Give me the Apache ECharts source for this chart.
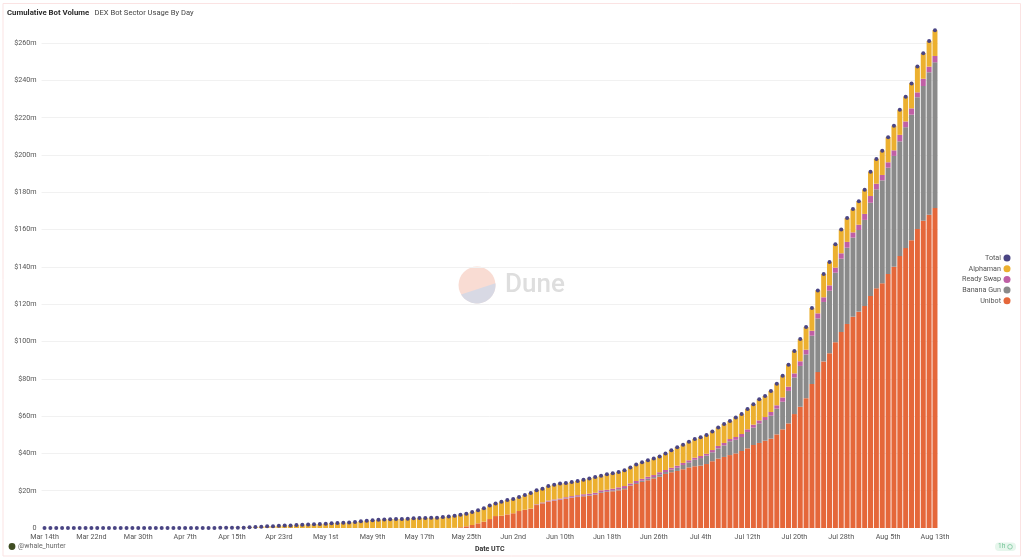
<!DOCTYPE html>
<html>
<head>
<meta charset="utf-8">
<style>html,body{margin:0;padding:0;background:#fff}#c{width:1024px;height:559px}</style>
<script src="https://cdn.jsdelivr.net/npm/echarts@6/dist/echarts.min.js"></script>
</head>
<body>
<div id="c"></div>
<script>
const monthSpans = [["Mar",14,31],["Apr",1,30],["May",1,31],["Jun",1,30],["Jul",1,31],["Aug",1,13]];
const seriesNames = ["Total","Alphaman","Ready Swap","Banana Gun","Unibot"];
const suffix = d => (d%10===1&&d!==11)?"st":(d%10===2&&d!==12)?"nd":(d%10===3&&d!==13)?"rd":"th";
const categories = [];
monthSpans.forEach(m => { for (let d=m[1]; d<=m[2]; d++) categories.push(m[0]+" "+d+suffix(d)); });

const unibot = [
0,0,0,0,0,0,0,0,0,0, 0,0,0,0,0,0,0,0,0,0, 0,0,0,0,0,0,0,0,0,0,
0,0,0,0,0,0,0,0,0,0, 0,0,0,0,0,0,0,0,0,0, 0,0,0,0,0,0,0,0,0,0,
0,0,0,0,0,0,0,0,0,0,
.1,.4,.9,1.6,2.5,3.4,4.8,6.4,6.6,7.3,
7.9,9.1,9.8,10.3,12.3,13.2,14.1,14.6,15,15.7,
16.2,16.6,17,17.3,17.7,
18.9,19.3,19.7,20.2,20.8,22.7,23.6,24.7,25.6,26.6,
27.5,29,29.9,30.6,31.5,32.5,33.1,33.4,34.3,35.8,
37.2,38.1,39.1,40,41.3,42.7,44.5,45.6,46.8,47.9,
50.2,52.9,56.1,61.1,65,69.6,77.2,83.6,89.3,93.7,
99.6,105.1,109.4,113.3,116,119,124.4,128.5,131.2,136.2,
140.1,145.8,150.1,154.3,160.3,164.8,168,171.6];

const bananaGun = [
0,0,0,0,0,0,0,0,0,0, 0,0,0,0,0,0,0,0,0,0, 0,0,0,0,0,0,0,0,0,0,
0,0,0,0,0,0,0,0,0,0, 0,0,0,0,0,0,0,0,0,0, 0,0,0,0,0,0,0,0,0,0,
0,0,0,0,0,0,0,0,0,0, 0,0,0,0,0,0,0,0,0,0, 0,0,0,0,
.1,.1,.1,.2,.2,.2,.2,.3,.3,.3,.3,
.4,.4,.5,.6,.6,.3,.5,.7,.8,.7,
1.3,1,1.4,1.7,2.3,2.7,3.5,4.1,4.5,4.8,
5.5,6.2,7.4,7.3,7.5,8.8,9.3,10.5,11.1,12.3,
13.8,14.8,17.4,19.6,21.9,23.5,25.9,28.8,31.9,33.5,
37.3,39.3,40.9,42.4,43.8,46.2,50,53.1,55.2,57,
59.4,61.5,64.8,67.3,70.7,72.2,76.4,78.1];

const readySwap = [
0,0,0,0,0,0,0,0,0,0, 0,0,0,0,0,0,0,0,0,0, 0,0,0,0,0,0,0,0,0,0,
0,0,0,0,0,0,0,0,0,0, 0,0,0,0,0,0,0,0,0,0, 0,0,0,0,0,0,0,0,0,0,
0,0,0,0,0,0,0,0,0,0, 0,0,0,0,0,0,0,0,0,0, 0,0,0,
.1,.3,.4,.5,.5,.6,.6,.7,.7,.8,.8,.9,
.9,.8,.9,1,1.1,.9,1.1,1,1.1,1.1,
1.1,1.1,1,1.1,1.1,1.1,1.1,1.1,1,1.2,
1.3,1.3,1.2,1.5,1.6,1.4,1.6,1.6,1.6,2,
1.8,2.3,2.3,2.2,2.5,2.5,2.7,2.7,2.5,2.9,
2.7,2.9,3.1,2.8,2.8,3.2,3.6,3,2.9,2.9,
3,3.5,3.1,3.4,2.6,3.9,3,3.4];

const alphaman = [
0,0,0,0,0,0,0,0,0,0, 0,0,0,0,0,0,0,0,0,0, 0,0,0,0,0,0,0,0,0,0,
.1,.1,.1,.2,.2,.4,.5,.7,.9,1,
1.2,1.3,1.4,1.6,1.8,1.9,2,2.1,2.3,2.6,
2.7,2.8,2.9,3.2,3.6,3.9,4.2,4.4,4.6,4.7,
4.8,4.8,5,5.2,5.3,5.4,5.5,5.5,5.9,6.1,
6.5,6.7,6.8,7,7,7.2,7.2,6.8,7.5,7.7,
7.6,7.5,7.9,8.4,7.5,7.4,7.8,7.9,8,7.6,
7.6,7.6,7.8,8.2,8.4,
7.8,8.3,8.2,8.2,8.4,8.6,8.8,8.8,8.8,8.8,
8.5,8.8,9.4,9.9,9.8,10,10,10,10.1,10,
9.9,10.2,9.7,10.5,10.7,10.9,10.9,11.3,11.3,11.3,
11.6,11.7,11.9,12.1,11.9,12.2,12.2,12.3,12.5,12.5,
12.5,12.7,12.8,12.5,12.6,13,13,13.3,13,13.4,
13.2,13.5,13.3,13.4,13.9,13.6,13.7,13.8];

const total = [
0,0,0,0,0,0,0,0,0,0, 0,0,0,0,0,0,0,0,0,0, 0,0,0,0,0,0,0,0,0,0,
.1,.1,.1,.2,.2,.4,.5,.7,.9,1,
1.2,1.3,1.4,1.6,1.8,1.9,2,2.1,2.3,2.6,
2.7,2.8,2.9,3.2,3.6,3.9,4.2,4.4,4.6,4.7,
4.8,4.8,5,5.2,5.3,5.4,5.5,5.5,5.9,6.1,
6.6,7.1,7.7,8.6,9.5,10.6,12,13.2,14.1,15,
15.5,16.6,17.7,18.8,20.2,21.1,22.5,23.2,23.8,24.1,
24.7,25.2,25.9,26.6,27.3,
28,28.8,29.3,30,30.9,32.5,34,35.2,36.3,37.2,
38.4,39.9,41.7,43.3,44.7,46.3,47.7,48.6,49.9,51.8,
53.9,55.8,57.4,59.3,61.1,63.8,66.3,69,70.8,73.5,
77.4,81.7,87.6,94.9,101.3,107.8,118,127.4,136.2,142.6,
152.1,160,166.2,171,175.2,181.4,191,197.9,202.3,209.5,
215.7,224.3,231.3,238.4,247.5,254.5,261.1,266.9];

const colors = {Total:"#4a4584",Alphaman:"#ecb02f","Ready Swap":"#bf5fa5","Banana Gun":"#8a8a8a",Unibot:"#e5673a"};
const FONT = 'Roboto,"Noto Sans",sans-serif';

function bar(name, data){
  return {name, type:"bar", stack:"s", data, barWidth:5, itemStyle:{color:colors[name]}, emphasis:{disabled:true}, silent:true, z:2};
}

const segment = [];
for (let a=-5.6; a<=149.5; a+=5) {
  const t=a*Math.PI/180;
  segment.push([477+18.5*Math.cos(t), 285+18.5*Math.sin(t)]);
}

const chart = echarts.init(document.getElementById("c"), null, {renderer:"canvas"});
chart.setOption({
  animation:false,
  backgroundColor:"#fff",
  textStyle:{fontFamily:FONT},
  title:[
    {text:"Cumulative Bot Volume", left:2, top:4.5, textStyle:{fontSize:7.8,fontWeight:700,color:"#2b2b2b",fontFamily:FONT}},
    {text:"DEX Bot Sector Usage By Day", left:89.5, top:4.5, textStyle:{fontSize:7.6,fontWeight:400,color:"#444",fontFamily:FONT}}
  ],
  grid:{left:41.6, right:86.1, top:24.45, bottom:31, containLabel:false},
  legend:{
    orient:"vertical", right:8.5, top:249.5, align:"right", icon:"circle",
    itemWidth:7, itemHeight:7, itemGap:3.7, selectedMode:false,
    data:seriesNames,
    textStyle:{fontSize:7.2,color:"#555",fontFamily:FONT,padding:[0,-2.5,0,0]}
  },
  xAxis:{
    type:"category", data:categories, boundaryGap:true,
    name:"Date UTC", nameLocation:"middle", nameGap:11,
    nameTextStyle:{fontSize:7,fontWeight:700,color:"#333",fontFamily:FONT},
    axisLine:{show:false}, axisTick:{show:false},
    axisLabel:{interval:7, fontSize:7.2, color:"#555", margin:6, fontFamily:FONT, hideOverlap:false}
  },
  yAxis:{
    type:"value", min:0, max:270, interval:20,
    axisLine:{show:false}, axisTick:{show:false},
    axisLabel:{fontSize:7.2,color:"#555",margin:5,fontFamily:FONT,showMaxLabel:false,
      formatter:v=>v===0?"0":"$"+v+"m"},
    splitLine:{show:true,showMaxLine:false,showMinLine:false,lineStyle:{color:"#f1f1f1",width:1}}
  },
  series:[
    bar("Unibot",unibot), bar("Banana Gun",bananaGun), bar("Ready Swap",readySwap), bar("Alphaman",alphaman),
    {name:"Total", type:"scatter", data:total, symbol:"circle", symbolSize:4, silent:true, z:5,
     itemStyle:{color:colors.Total,opacity:1}, emphasis:{disabled:true}}
  ],
  graphic:[
    {type:"rect", z:-10, silent:true, shape:{x:3,y:3.5,width:1017.5,height:552.5}, style:{fill:"none",stroke:"#fbe3e3",lineWidth:1}},
    {type:"circle", z:-5, silent:true, shape:{cx:477,cy:285,r:18.5}, style:{fill:"#f9dcd3"}},
    {type:"polygon", z:-4, silent:true, shape:{points:segment}, style:{fill:"#d8d9e4"}},
    {type:"text", z:-4, silent:true, style:{x:505,y:285,text:"Dune",verticalAlign:"middle",fill:"#dedede",fontSize:26,fontWeight:500,fontFamily:FONT}},
    {type:"circle", silent:true, shape:{cx:12,cy:546.5,r:3.4}, style:{fill:"#3f4d22"}},
    {type:"text", silent:true, style:{x:18,y:546.5,text:"@whale_hunter",verticalAlign:"middle",fill:"#666",fontSize:7,fontFamily:FONT}},
    {type:"rect", silent:true, shape:{x:995,y:542.5,width:21,height:8.5,r:4}, style:{fill:"#e6f6ec"}},
    {type:"text", silent:true, style:{x:998,y:546.8,text:"1h",verticalAlign:"middle",fill:"#6fc193",fontSize:6.5,fontFamily:FONT}},
    {type:"circle", silent:true, shape:{cx:1010,cy:546.8,r:2.3}, style:{fill:"none",stroke:"#6fc193",lineWidth:.7}}
  ]
});
</script>
</body>
</html>
